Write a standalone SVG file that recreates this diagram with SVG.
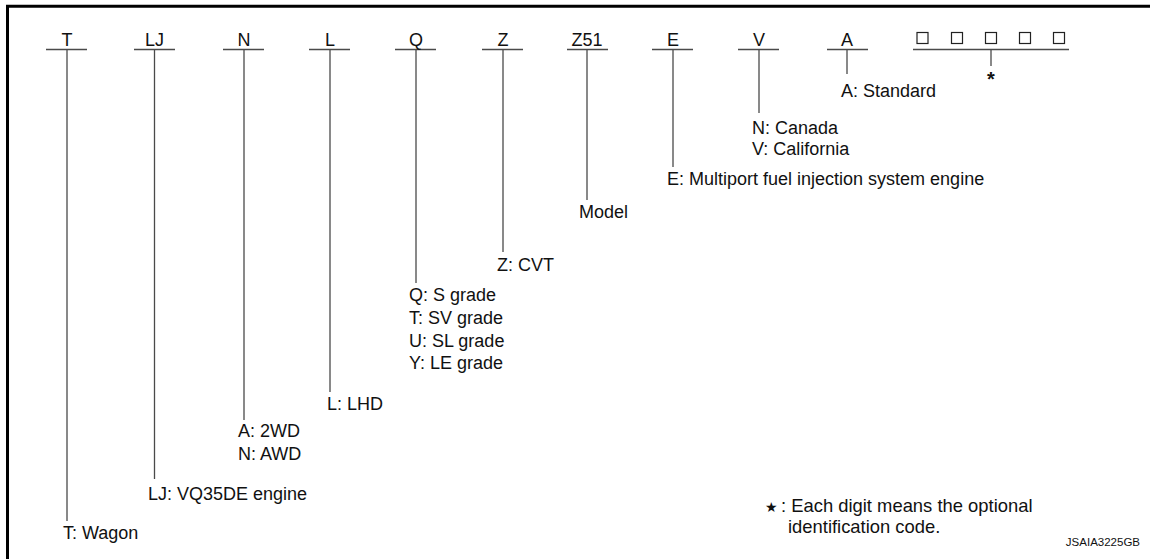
<svg xmlns="http://www.w3.org/2000/svg" width="1160" height="559" viewBox="0 0 1160 559">
<style>
text{font-family:"Liberation Sans",Arial,sans-serif;fill:#111;}
.h{font-size:18px;text-anchor:middle;}
.t{font-size:18px;}
.f{font-size:18.4px;}
.c line{stroke:#4a4a4a;stroke-width:1.3;}
.bx{fill:none;stroke:#222;stroke-width:1.2;}
.frame{stroke:#000;stroke-width:3;fill:none;}
</style>
<rect width="1160" height="559" fill="#fff"/>
<path class="frame" d="M7.5 559V6.2H1150"/>
<g id="connectors" class="c">
<line x1="46" y1="49.5" x2="87" y2="49.5"/><line x1="67" y1="49.5" x2="67" y2="521"/>
<line x1="134" y1="49.5" x2="175" y2="49.5"/><line x1="154.5" y1="49.5" x2="154.5" y2="479"/>
<line x1="223" y1="49.5" x2="264" y2="49.5"/><line x1="244" y1="49.5" x2="244" y2="420"/>
<line x1="309" y1="49.5" x2="350" y2="49.5"/><line x1="330" y1="49.5" x2="330" y2="392"/>
<line x1="395" y1="49.5" x2="436" y2="49.5"/><line x1="416" y1="49.5" x2="416" y2="283"/>
<line x1="482" y1="49.5" x2="523" y2="49.5"/><line x1="503" y1="49.5" x2="503" y2="252"/>
<line x1="567" y1="49.5" x2="608" y2="49.5"/><line x1="587" y1="49.5" x2="587" y2="200"/>
<line x1="652" y1="49.5" x2="693" y2="49.5"/><line x1="673" y1="49.5" x2="673" y2="167"/>
<line x1="738" y1="49.5" x2="779" y2="49.5"/><line x1="759" y1="49.5" x2="759" y2="113"/>
<line x1="827" y1="49.5" x2="868" y2="49.5"/><line x1="847" y1="49.5" x2="847" y2="74"/>
<line x1="913" y1="49.5" x2="1069" y2="49.5"/><line x1="991" y1="49.5" x2="991" y2="66"/>
</g>
<g id="node-T"><text class="h" x="67" y="46">T</text><text class="t" x="63" y="539">T: Wagon</text></g>
<g id="node-LJ"><text class="h" x="154.5" y="46">LJ</text><text class="t" x="148" y="500">LJ: VQ35DE engine</text></g>
<g id="node-N"><text class="h" x="244" y="46">N</text><text class="t" x="238" y="437">A: 2WD</text><text class="t" x="238" y="460">N: AWD</text></g>
<g id="node-L"><text class="h" x="330" y="46">L</text><text class="t" x="327" y="410">L: LHD</text></g>
<g id="node-Q"><text class="h" x="416" y="46">Q</text><text class="t" x="409" y="301">Q: S grade</text><text class="t" x="409" y="324">T: SV grade</text><text class="t" x="409" y="347">U: SL grade</text><text class="t" x="409" y="369">Y: LE grade</text></g>
<g id="node-Z"><text class="h" x="503" y="46">Z</text><text class="t" x="497" y="271">Z: CVT</text></g>
<g id="node-Z51"><text class="h" x="587" y="46">Z51</text><text class="t" x="579" y="218">Model</text></g>
<g id="node-E"><text class="h" x="673" y="46">E</text><text class="t" x="667" y="185">E: Multiport fuel injection system engine</text></g>
<g id="node-V"><text class="h" x="759" y="46">V</text><text class="t" x="752" y="134">N: Canada</text><text class="t" x="752" y="155">V: California</text></g>
<g id="node-A"><text class="h" x="847" y="46">A</text><text class="t" x="841" y="97">A: Standard</text></g>
<g id="node-code">
<rect class="bx" x="917" y="32.5" width="11" height="11"/>
<rect class="bx" x="951.5" y="32.5" width="11" height="11"/>
<rect class="bx" x="985.5" y="32.5" width="11" height="11"/>
<rect class="bx" x="1019.5" y="32.5" width="11" height="11"/>
<rect class="bx" x="1053.5" y="32.5" width="11" height="11"/>
<text x="991" y="86" style="font-size:20px;font-weight:bold;text-anchor:middle">*</text>
</g>
<g id="footnote">
<text x="765" y="512" style="font-size:14px;font-family:'DejaVu Sans',sans-serif">★</text>
<text class="f" x="781" y="512">: Each digit means the optional</text>
<text class="f" x="788" y="533">identification code.</text>
</g>
<text x="1140" y="546" style="font-size:11.5px;text-anchor:end">JSAIA3225GB</text>
</svg>
